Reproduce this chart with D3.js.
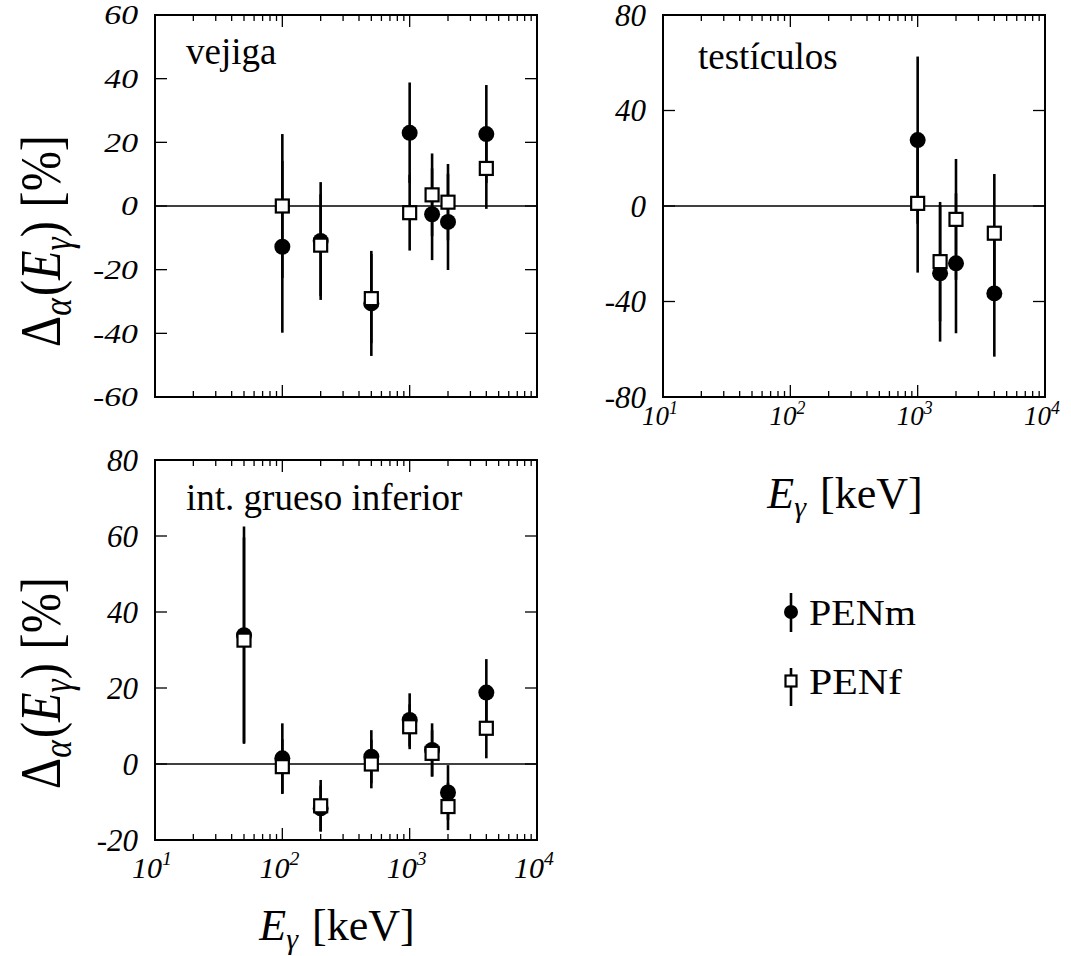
<!DOCTYPE html>
<head>
  <meta charset="utf-8" />
  <script src="https://d3js.org/d3.v7.min.js"></script>
  <style>
    body { margin: 0; background: #fff; }
  </style>
</head>

<body>
  <div id="grafico"></div>

  <script>
    // Datos: energias (keV) y desviaciones Delta_alpha (%) con su incertidumbre
    // vejiga
    const energias_vejiga = [100, 200, 500, 1000, 1500, 2000, 4000];
    const penm_vejiga     = [-12.8, -11.0, -30.6, 23.0, -2.6, -5.0, 22.6];
    const penm_vejiga_err = [27.0, 18.5, 16.5, 15.8, 14.4, 15.1, 15.4];
    const penf_vejiga     = [0.0, -12.3, -29.1, -2.1, 3.5, 1.2, 11.8];
    const penf_vejiga_err = [22.6, 16.0, 14.0, 11.9, 13.0, 12.0, 12.7];

    // testiculos
    const energias_test = [1000, 1500, 2000, 4000];
    const penm_test     = [27.6, -28.2, -24.0, -36.6];
    const penm_test_err = [35.0, 28.6, 29.3, 26.5];
    const penf_test     = [1.1, -23.3, -5.6, -11.4];
    const penf_test_err = [29.0, 25.0, 25.3, 24.8];

    // intestino grueso inferior
    const energias_int = [50, 100, 200, 500, 1000, 1500, 2000, 4000];
    const penm_int     = [33.9, 1.5, -11.7, 1.9, 11.6, 3.7, -7.5, 18.8];
    const penm_int_err = [28.6, 9.2, 6.0, 7.0, 7.0, 7.0, 7.2, 8.8];
    const penf_int     = [32.6, -0.7, -11.0, 0.0, 9.8, 2.8, -11.2, 9.4];
    const penf_int_err = [27.0, 7.2, 6.8, 6.4, 5.9, 6.1, 6.2, 7.9];

    // marcas de los ejes
    const ticks_vejiga = [-60, -40, -20, 0, 20, 40, 60];
    const ticks_test   = [-80, -40, 0, 40, 80];
    const ticks_int    = [-20, 0, 20, 40, 60, 80];
    const decadas      = [1, 2, 3, 4];   // 10^1 ... 10^4

    const width = 1071, height = 956;
    const fuente = "'Liberation Serif', 'DejaVu Serif', 'Times New Roman', serif";

    var svg = d3.select("#grafico")
      .append("svg")
      .attr("width", width)
      .attr("height", height)
      .attr("font-family", fuente);

    // dibuja un panel completo
    function dibujarPanel(p) {
      var x = d3.scaleLog().domain([10, 10000]).range([p.x0, p.x1]);
      var y = d3.scaleLinear().domain(p.dominio).range([p.y1, p.y0]);
      var g = svg.append("g");

      // linea del cero
      g.append("line")
        .attr("x1", p.x0).attr("x2", p.x1)
        .attr("y1", y(0)).attr("y2", y(0))
        .style("stroke", "black")
        .style("stroke-width", 1.6);

      // marcas menores y mayores en x (arriba y abajo, hacia dentro)
      var marcasX = [];
      [10, 100, 1000].forEach(function (d) {
        for (var k = 2; k <= 9; k++) marcasX.push({ v: d * k, largo: 6 });
        if (d > 10) marcasX.push({ v: d, largo: 12 });
      });
      [p.y0, p.y1].forEach(function (yy, i) {
        g.selectAll(null)
          .data(marcasX)
          .join("line")
          .attr("x1", function (d) { return x(d.v); })
          .attr("x2", function (d) { return x(d.v); })
          .attr("y1", yy)
          .attr("y2", function (d) { return i == 0 ? yy + d.largo : yy - d.largo; })
          .style("stroke", "black")
          .style("stroke-width", 1.3);
      });

      // marcas en y (izquierda y derecha)
      var interiores = p.ticks.slice(1, -1);
      [p.x0, p.x1].forEach(function (xx, i) {
        g.selectAll(null)
          .data(interiores)
          .join("line")
          .attr("x1", xx)
          .attr("x2", i == 0 ? xx + 12 : xx - 12)
          .attr("y1", function (d) { return y(d); })
          .attr("y2", function (d) { return y(d); })
          .style("stroke", "black")
          .style("stroke-width", 1.3);
      });

      // marco
      g.append("rect")
        .attr("x", p.x0).attr("y", p.y0)
        .attr("width", p.x1 - p.x0).attr("height", p.y1 - p.y0)
        .style("fill", "none")
        .style("stroke", "black")
        .style("stroke-width", 2);

      // etiquetas del eje y
      g.selectAll(null)
        .data(p.ticks)
        .join("text")
        .attr("transform", function (d) {
          return "translate(" + (p.x0 - 17) + "," + (y(d) + p.tamTick * 0.34) + ") scale(" + p.estirar + ",1)";
        })
        .attr("text-anchor", "end")
        .style("font-family", fuente)
        .style("font-style", "italic")
        .style("font-size", p.tamTick + "px")
        .text(function (d) { return d; });

      // etiquetas del eje x
      if (p.etiquetasX) {
        var tx = g.selectAll(null)
          .data(decadas)
          .join("text")
          .attr("x", function (d) { return x(Math.pow(10, d)) - 3; })
          .attr("y", p.y1 + p.bajaX)
          .attr("text-anchor", "middle")
          .style("font-family", fuente)
          .style("font-style", "italic")
          .style("font-size", p.tamX + "px");
        tx.append("tspan").text("10");
        tx.append("tspan")
          .attr("dy", -p.tamX * 0.42)
          .style("font-size", (p.tamX * 0.66) + "px")
          .text(function (d) { return d; });

        // titulo del eje x
        var tt = g.append("text")
          .attr("x", (p.x0 + p.x1) / 2 - 9)
          .attr("y", p.y1 + p.bajaTitulo)
          .attr("text-anchor", "middle")
          .style("font-family", fuente)
          .style("font-size", "44px");
        tt.append("tspan").style("font-style", "italic").text("E");
        tt.append("tspan").attr("dy", 9).style("font-style", "italic").style("font-size", "30px").text("γ");
        tt.append("tspan").attr("dy", -9).attr("dx", 14).text("[keV]");
      }

      // nombre del organo
      g.append("text")
        .attr("x", p.x0 + p.nombreX)
        .attr("y", p.y0 + p.nombreY)
        .style("font-family", fuente)
        .style("font-size", "37px")
        .text(p.nombre);

      // series: primero PENm (circulos), despues PENf (cuadrados)
      var serieM = p.energias.map(function (e, i) { return { e: e, v: p.penm[i], s: p.penm_err[i] }; });
      var serieF = p.energias.map(function (e, i) { return { e: e, v: p.penf[i], s: p.penf_err[i] }; });

      [serieM, serieF].forEach(function (serie, k) {
        g.selectAll(null)
          .data(serie)
          .join("line")
          .attr("x1", function (d) { return x(d.e); })
          .attr("x2", function (d) { return x(d.e); })
          .attr("y1", function (d) { return y(d.v - d.s); })
          .attr("y2", function (d) { return y(d.v + d.s); })
          .style("stroke", "black")
          .style("stroke-width", 2.6);
        if (k == 0) {
          g.selectAll(null)
            .data(serie)
            .join("circle")
            .attr("cx", function (d) { return x(d.e); })
            .attr("cy", function (d) { return y(d.v); })
            .attr("r", 8)
            .style("fill", "black");
        } else {
          g.selectAll(null)
            .data(serie)
            .join("rect")
            .attr("x", function (d) { return x(d.e) - 6.5; })
            .attr("y", function (d) { return y(d.v) - 6.5; })
            .attr("width", 13)
            .attr("height", 13)
            .style("fill", "white")
            .style("stroke", "black")
            .style("stroke-width", 2.2);
        }
      });

      // titulo del eje y (texto estirado como en el original)
      if (p.tituloY) {
        var ty = svg.append("text")
          .attr("transform", "translate(60," + p.centroTituloY + ") rotate(-90) scale(1.15,1.35)")
          .attr("text-anchor", "middle")
          .style("font-family", fuente)
          .style("font-size", "42px");
        ty.append("tspan").text("Δ");
        ty.append("tspan").attr("dy", 8).style("font-style", "italic").style("font-size", "29px").text("α");
        ty.append("tspan").attr("dy", -8).attr("dx", 2).text("(");
        ty.append("tspan").style("font-style", "italic").text("E");
        ty.append("tspan").attr("dy", 8).style("font-style", "italic").style("font-size", "29px").text("γ");
        ty.append("tspan").attr("dy", -8).text(")");
        ty.append("tspan").attr("dx", 12).text("[%]");
      }
    }

    dibujarPanel({
      nombre: "vejiga", nombreX: 31, nombreY: 49, x0: 155, x1: 537, y0: 15, y1: 397,
      dominio: [-60, 60], ticks: ticks_vejiga, tamTick: 27, estirar: 1.25,
      energias: energias_vejiga, penm: penm_vejiga, penm_err: penm_vejiga_err,
      penf: penf_vejiga, penf_err: penf_vejiga_err,
      etiquetasX: false, tituloY: true, centroTituloY: 241
    });

    dibujarPanel({
      nombre: "testículos", nombreX: 35, nombreY: 54, x0: 663, x1: 1045, y0: 15, y1: 397,
      dominio: [-80, 80], ticks: ticks_test, tamTick: 31, estirar: 1.0,
      energias: energias_test, penm: penm_test, penm_err: penm_test_err,
      penf: penf_test, penf_err: penf_test_err,
      etiquetasX: true, tamX: 27, bajaX: 28, bajaTitulo: 111, tituloY: false
    });

    dibujarPanel({
      nombre: "int. grueso inferior", nombreX: 31, nombreY: 50, x0: 155, x1: 537, y0: 460, y1: 840,
      dominio: [-20, 80], ticks: ticks_int, tamTick: 31, estirar: 1.0,
      energias: energias_int, penm: penm_int, penm_err: penm_int_err,
      penf: penf_int, penf_err: penf_int_err,
      etiquetasX: true, tamX: 30, bajaX: 38, bajaTitulo: 100, tituloY: true, centroTituloY: 683
    });

    // leyenda
    const leyenda = [
      { nombre: "PENm", y: 612, y1: 593, y2: 632 },
      { nombre: "PENf", y: 681, y1: 668, y2: 706 }
    ];
    var ley = svg.append("g");
    ley.selectAll(null)
      .data(leyenda)
      .join("line")
      .attr("x1", 791).attr("x2", 791)
      .attr("y1", function (d) { return d.y1; })
      .attr("y2", function (d) { return d.y2; })
      .style("stroke", "black")
      .style("stroke-width", 2.6);
    ley.append("circle")
      .attr("cx", 791).attr("cy", leyenda[0].y).attr("r", 7)
      .style("fill", "black");
    ley.append("rect")
      .attr("x", 791 - 5.5).attr("y", leyenda[1].y - 5.5)
      .attr("width", 11).attr("height", 11)
      .style("fill", "white")
      .style("stroke", "black")
      .style("stroke-width", 2.2);
    ley.selectAll(null)
      .data(leyenda)
      .join("text")
      .attr("x", 809)
      .attr("y", function (d) { return d.y + 13; })
      .style("font-family", fuente)
      .style("font-size", "36px")
      .attr("textLength", function (d) { return d.nombre == "PENm" ? 107 : 93; })
      .attr("lengthAdjust", "spacingAndGlyphs")
      .text(function (d) { return d.nombre; });
  </script>
</body>
